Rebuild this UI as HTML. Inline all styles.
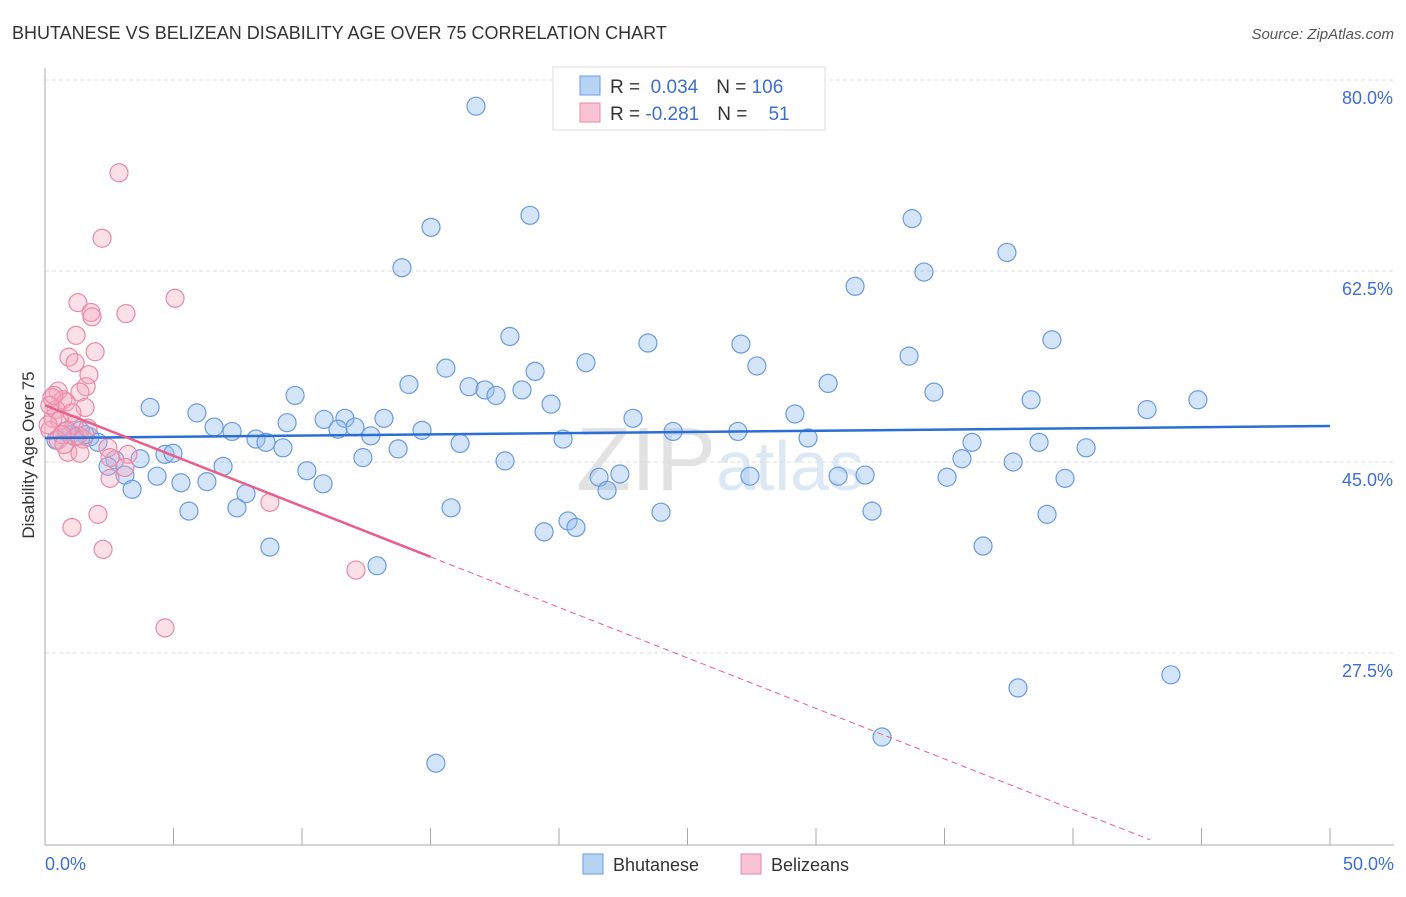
<!DOCTYPE html>
<html><head><meta charset="utf-8">
<style>
body{margin:0;background:#fff;font-family:"Liberation Sans",sans-serif;}
svg text{font-family:"Liberation Sans",sans-serif;}
</style></head>
<body>
<svg id="chart" width="1406" height="892" xmlns="http://www.w3.org/2000/svg">
<text x="12" y="39" font-size="18" fill="#333">BHUTANESE VS BELIZEAN DISABILITY AGE OVER 75 CORRELATION CHART</text>
<text x="1394" y="39" font-size="15" fill="#555" font-style="italic" text-anchor="end">Source: ZipAtlas.com</text>
<text x="720" y="490" font-size="90" fill="#e6e6e6" text-anchor="middle" font-family="Liberation Serif"><tspan fill="#e2e2e2">ZIP</tspan><tspan fill="#dde8f5" font-family="Liberation Sans" font-size="70">atlas</tspan></text>
<g id="grid"></g>
<g id="axes"></g>
<g id="pts"></g>
<g id="trends"></g>
<text x="34" y="455" font-size="17" fill="#333" text-anchor="middle" transform="rotate(-90 34 455)">Disability Age Over 75</text>
<text x="45" y="870" font-size="18" fill="#3d6fd1">0.0%</text>
<text x="1394" y="870" font-size="18" fill="#3d6fd1" text-anchor="end">50.0%</text>
<g>
<rect x="553" y="67" width="272" height="63" fill="#fff" stroke="#ddd"/>
<rect x="580" y="76" width="20" height="19" fill="#b9d3f5" stroke="#6a9be0"/>
<rect x="580" y="103" width="20" height="19" fill="#f9c3d3" stroke="#e88aa8"/>
<text x="610" y="93" font-size="19" fill="#333">R = <tspan fill="#3d6fd1">&#160;0.034</tspan><tspan dx="18">N = </tspan><tspan fill="#3d6fd1">106</tspan></text>
<text x="610" y="120" font-size="19" fill="#333">R = <tspan fill="#3d6fd1">-0.281</tspan><tspan dx="18">N = </tspan><tspan fill="#3d6fd1">&#160;&#160;&#160;51</tspan></text>
</g>
<g>
<rect x="583" y="854" width="20" height="20" fill="#b9d3f5" stroke="#6a9be0"/>
<text x="613" y="871" font-size="18" fill="#333">Bhutanese</text>
<rect x="741" y="854" width="20" height="20" fill="#f9c3d3" stroke="#e88aa8"/>
<text x="771" y="871" font-size="18" fill="#333">Belizeans</text>
</g>
</svg>
<script>
const yTicks=[80,62.5,45,27.5];
const yTickLabels=["80.0%","62.5%","45.0%","27.5%"];
const xTicks=[0,5,10,15,20,25,30,35,40,45,50];
const blueX=[16.77,15.02,18.87,13.89,33.74,37.43,34.20,31.52,18.09,23.46,27.08,39.18,33.62,15.60,21.05,27.70,19.07,14.16,16.50,17.12,17.55,18.56,30.47,34.59,9.73,4.09,19.69,38.37,44.86,42.88,5.91,29.18,10.86,11.67,13.19,22.88,9.42,6.58,7.28,11.40,12.06,12.68,14.67,24.44,26.96,29.69,20.16,8.21,8.60,9.26,13.74,16.15,36.07,38.68,40.51,0.43,0.97,1.75,2.06,1.36,0.82,2.72,3.70,4.67,4.98,12.37,17.90,35.68,37.67,2.45,6.93,10.19,4.36,21.56,22.37,27.43,30.86,31.91,35.10,39.69,3.11,5.29,6.30,10.82,3.39,21.87,7.82,5.60,7.47,15.80,23.97,32.18,38.99,20.35,19.42,20.66,8.75,36.50,12.92,37.86,43.81,32.57,15.21,1.56,1.17];
const blueY=[77.6,66.5,67.6,62.8,67.3,64.2,62.4,61.1,56.5,55.9,55.8,56.2,54.7,53.6,54.1,53.8,53.3,52.1,51.9,51.6,51.1,51.6,52.2,51.4,51.1,50.0,50.3,50.7,50.7,49.8,49.5,49.4,48.9,49.0,49.0,49.0,48.6,48.2,47.8,48.0,48.2,47.4,47.9,47.8,47.8,47.2,47.1,47.1,46.8,46.3,46.2,46.7,46.8,46.8,46.3,47.0,47.5,47.3,46.8,47.9,47.8,45.2,45.3,45.7,45.8,45.4,45.1,45.3,45.0,44.6,44.6,44.2,43.7,43.6,43.9,43.7,43.7,43.8,43.6,43.5,43.8,43.1,43.2,43.0,42.5,42.4,42.1,40.5,40.8,40.8,40.4,40.5,40.2,39.6,38.6,39.0,37.2,37.3,35.5,24.3,25.5,19.8,17.4,47.5,47.3];
const pinkX=[2.88,2.22,1.28,5.06,1.79,1.83,3.15,1.21,1.95,0.93,1.17,1.71,1.60,0.51,1.36,0.70,0.27,0.82,1.56,0.43,0.31,0.58,1.13,0.86,1.28,0.19,0.51,1.48,2.45,0.89,1.36,3.23,3.11,2.53,8.75,2.06,1.05,2.26,12.10,4.67,0.19,0.35,0.12,0.66,1.05,1.67,0.74,2.53];
const pinkY=[71.5,65.5,59.6,60.0,58.7,58.3,58.6,56.6,55.1,54.6,54.1,53.0,51.9,51.5,51.4,50.7,50.9,50.5,50.0,49.8,49.0,48.8,48.4,47.9,47.4,47.9,47.0,47.1,46.3,45.9,45.8,45.7,44.5,43.5,41.3,40.2,39.0,37.0,35.1,29.8,50.2,51.1,48.4,47.5,49.5,48.1,46.6,45.4];
const blueTrend=[47.2,48.3];      // y at x=0 and x=50
const pinkTrend=[50.2,-0.926];    // intercept, slope
const pinkSolidEnd=15, pinkDashEnd=43;

const NS="http://www.w3.org/2000/svg";
const X=v=>45+v*25.7, Y=v=>80+(80-v)*10.914;
function mk(tag,attrs,parent){const e=document.createElementNS(NS,tag);for(const k in attrs)e.setAttribute(k,attrs[k]);parent.appendChild(e);return e;}
const grid=document.getElementById('grid'),axes=document.getElementById('axes'),pts=document.getElementById('pts'),tr=document.getElementById('trends');
yTicks.forEach((t,i)=>{
 const l=mk('line',{x1:45,x2:1394,y1:Y(t),y2:Y(t),stroke:'#ddd','stroke-dasharray':'4,3'},grid);
 
 
 const tx=mk('text',{x:1393,y:Y(t)+24,'font-size':18,fill:'#3d6fd1','text-anchor':'end'},grid);
 tx.textContent=yTickLabels[i];
 
 
});
const ya=mk('line',{x1:45,x2:45,y1:68,y2:845,stroke:'#aaa'},axes);


const xa=mk('line',{x1:45,x2:1394,y1:845,y2:845,stroke:'#aaa'},axes);


xTicks.forEach(t=>{
 const l=mk('line',{x1:X(t),x2:X(t),y1:828,y2:845,stroke:'#aaa'},axes);
 
 
});
blueX.forEach((x,i)=>{
 const c=mk('circle',{cx:X(x),cy:Y(blueY[i]),r:9,fill:'rgba(150,190,240,0.4)',stroke:'#6a9be0','stroke-width':1.2},pts);
 
 
});
pinkX.forEach((x,i)=>{
 const c=mk('circle',{cx:X(x),cy:Y(pinkY[i]),r:9,fill:'rgba(245,165,190,0.35)',stroke:'#e88aa8','stroke-width':1.2},pts);
 
 
});
const bl=mk('line',{x1:X(0),y1:Y(blueTrend[0]),x2:X(50),y2:Y(blueTrend[1]),stroke:'#2a6fd6','stroke-width':2.5},tr);


const pf=v=>pinkTrend[0]+pinkTrend[1]*v;
const pl=mk('line',{x1:X(0),y1:Y(pf(0)),x2:X(pinkSolidEnd),y2:Y(pf(pinkSolidEnd)),stroke:'#e8608a','stroke-width':2.5},tr);


const pd=mk('line',{x1:X(pinkSolidEnd),y1:Y(pf(pinkSolidEnd)),x2:X(pinkDashEnd),y2:Y(pf(pinkDashEnd)),stroke:'#e8608a','stroke-width':1,'stroke-dasharray':'6,4'},tr);


</script>
</body></html>
